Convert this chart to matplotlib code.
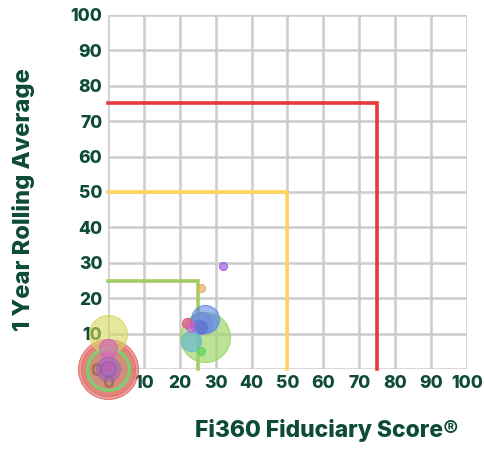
import matplotlib
matplotlib.use("Agg")
import matplotlib.pyplot as plt
from matplotlib.colors import to_rgba

# ---- data ----
fid_score = [0, 0, 0, 0, 0, 0, 0, 0, 0, 0,
             27, 27, 26, 28, 25, 23, 26, 22, 23, 26, 32, 26]
rolling_avg = [0, 0, 0, 10, 6, 3, 0, 0, 0, 1,
               9, 14, 13, 13, 12, 8, 5, 13, 12, 23, 29, 12]
bubble_size = [30, 27, 21, 19, 9, 7, 12, 8, 5, 4,
               25, 14, 11, 9, 7, 10, 4, 5, 5, 4, 4, 6]
bubble_color = ['#e06060', '#d96a5a', '#6fd86f', '#d6d85a', '#d060c8', '#d070c0',
                '#a060c0', '#9858c8', '#b070c0', '#c060a0',
                '#9ed66a', '#5b8ae0', '#6a80e0', '#7090e8', '#6078d8', '#6ab8d0',
                '#5cd65c', '#e0507a', '#d060d0', '#e0b060', '#a060e0', '#6070d0']
bubble_alpha = [0.6, 0.5, 0.15, 0.6, 0.6, 0.5, 0.5, 0.5, 0.5, 0.5,
                0.7, 0.6, 0.5, 0.5, 0.5, 0.7, 0.7, 0.7, 0.6, 0.7, 0.7, 0.5]

thresholds = [75, 50, 25]
threshold_colors = ['#e8393a', '#fdd55e', '#a5cb63']

x_ticks = [0, 10, 20, 30, 40, 50, 60, 70, 80, 90, 100]
y_ticks = [0, 10, 20, 30, 40, 50, 60, 70, 80, 90, 100]

text_color = '#0d4a38'
grid_color = '#cccccc'

plt.rcParams['font.family'] = ['Inter', 'DejaVu Sans']

fig = plt.figure(figsize=(4.84, 4.49), dpi=100)
ax = fig.add_axes([0.223, 0.178, 0.742, 0.789])
ax.set_xlim(0, 100)
ax.set_ylim(0, 100)
ax.set_axisbelow(True)

ax.set_xticks(x_ticks)
ax.set_yticks(y_ticks)
ax.grid(True, color=grid_color, linewidth=1.8)
for s in ax.spines.values():
    s.set_visible(False)
ax.tick_params(length=0, labelsize=12.5, labelcolor=text_color, pad=4)
for lbl in ax.get_xticklabels() + ax.get_yticklabels():
    lbl.set_fontweight('heavy')

# threshold lines
for t, c in zip(thresholds, threshold_colors):
    ax.plot([0, t, t], [t, t, 0], color=c, linewidth=2.6, zorder=1.5,
            solid_joinstyle='miter', clip_on=False)

# bubbles: size value is radius in px
px2pt = 72.0 / fig.dpi
for i, (xi, yi, r, c, a) in enumerate(zip(fid_score, rolling_avg, bubble_size,
                                           bubble_color, bubble_alpha)):
    s = (2 * r * px2pt) ** 2
    if i == 2:
        ax.scatter([xi], [yi], s=s, facecolors=[to_rgba(c, a)],
                   edgecolors=[to_rgba(c, 0.9)], linewidths=2.2, zorder=3, clip_on=False)
    else:
        ax.scatter([xi], [yi], s=s, facecolors=[to_rgba(c, a)],
                   edgecolors=[to_rgba(c, min(1, a + 0.2))], linewidths=0.8,
                   zorder=3, clip_on=False)

fig.text(0.048, 0.555, '1 Year Rolling Average', rotation=90, ha='center', va='center',
         fontsize=17, fontweight='heavy', color=text_color)
fig.text(0.676, 0.042, 'Fi360 Fiduciary Score®', ha='center', va='center',
         fontsize=16.5, fontweight='heavy', color=text_color)

fig.savefig('out.png', dpi=100)
